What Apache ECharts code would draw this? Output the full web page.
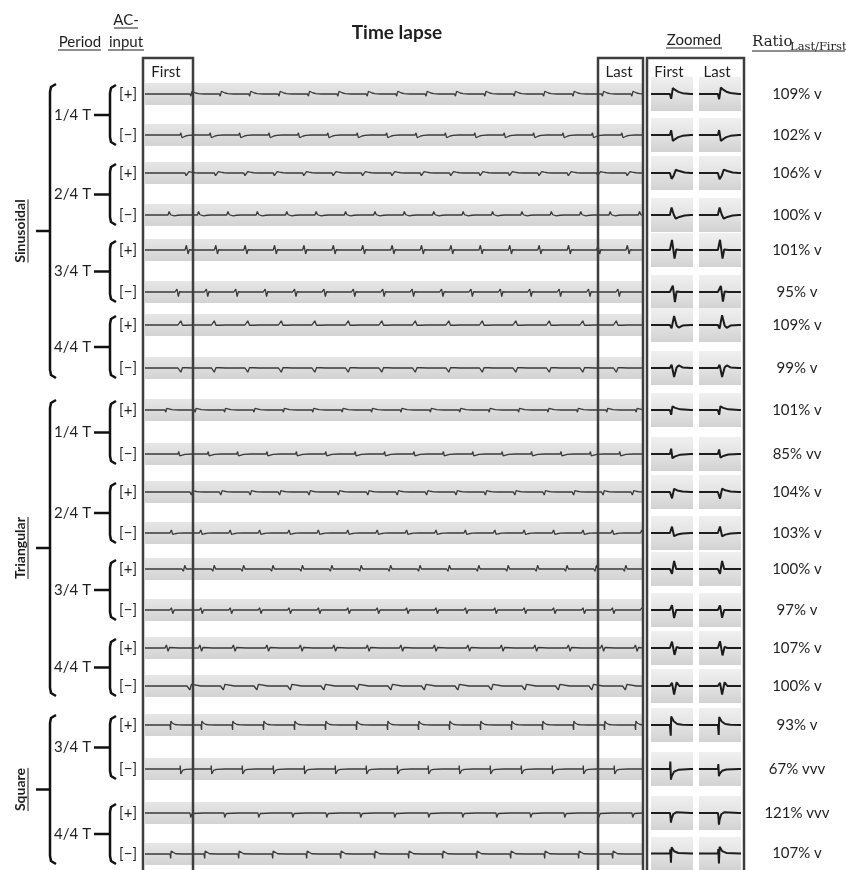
<!DOCTYPE html>
<html><head><meta charset="utf-8">
<script src="https://cdn.jsdelivr.net/npm/echarts@6/dist/echarts.min.js"></script>
<style>html,body{margin:0;padding:0;background:#fff}#c{width:846px;height:870px}</style>
</head><body><div id="c"></div>
<script>
// ---------------- DATA ----------------
const waveformNames = ['Sinusoidal', 'Triangular', 'Square'];
const waveformRows = [[0, 7], [8, 15], [16, 19]];
const periodLabels = ['1/4 T', '2/4 T', '3/4 T', '4/4 T', '1/4 T', '2/4 T', '3/4 T', '4/4 T', '3/4 T', '4/4 T'];
const polarityLabels = ['[+]', '[\u2212]'];
const ratioValues = [109, 102, 106, 100, 101, 95, 109, 99, 101, 85, 104, 103, 100, 97, 107, 100, 93, 67, 121, 107];
const ratioMarks = ['v', 'v', 'v', 'v', 'v', 'v', 'v', 'v', 'v', 'vv', 'v', 'v', 'v', 'v', 'v', 'v', 'v', 'vvv', 'vvv', 'v'];
// first stimulus artifact in the time-lapse strip and spacing between artifacts (strip units)
const firstPulse = [45, 35, 40, 23, 40, 30, 33, 33, 20, 33, 45, 25, 37, 25, 20, 42, 25, 35, 45, 25];
const pulseInterval = [29.4, 29.4, 29.4, 29.4, 29.4, 29.4, 33.5, 33.5, 29.4, 29.4, 29.4, 29.4, 29.4, 29.4, 33.5, 33.5, 31, 31, 34, 34];

// artifact shapes: [relative time 0..1, normalised amplitude]
const shapeSin14Pos = [[0, 0], [0.06, -0.45], [0.14, 0.55], [0.25, 0.38], [0.4, 0.2], [0.6, 0.08], [1, 0]];
const shapeSin14Neg = [[0, 0], [0.06, 0.45], [0.14, -0.55], [0.25, -0.38], [0.4, -0.2], [0.6, -0.08], [1, 0]];
const shapeSin24Pos = [[0, 0], [0.08, -0.55], [0.18, -0.25], [0.28, 0.3], [0.45, 0.18], [0.7, 0.05], [1, 0]];
const shapeSin24Neg = [[0, 0], [0.08, 0.7], [0.18, 0.05], [0.28, -0.35], [0.45, -0.18], [0.7, -0.05], [1, 0]];
const shapeSin34Pos = [[0, 0], [0.1, 0.95], [0.22, -0.8], [0.3, 0.05], [0.5, 0], [1, 0]];
const shapeSin34Neg = [[0, 0], [0.06, -0.15], [0.14, 0.6], [0.24, -0.95], [0.32, 0.05], [0.5, 0], [1, 0]];
const shapeSin44Pos = [[0, 0], [0.08, -0.3], [0.2, 0.85], [0.32, -0.05], [0.42, -0.25], [0.6, -0.05], [1, 0]];
const shapeSin44Neg = [[0, 0], [0.08, 0.3], [0.2, -0.85], [0.32, 0.05], [0.42, 0.25], [0.6, 0.05], [1, 0]];
const shapeTri14Pos = [[0, 0], [0.06, -0.45], [0.12, 0.35], [0.25, 0.2], [0.5, 0.06], [1, 0]];
const shapeTri14Neg = [[0, 0], [0.06, 0.5], [0.12, -0.4], [0.25, -0.22], [0.5, -0.06], [1, 0]];
const shapeTri24Pos = [[0, 0], [0.1, -0.6], [0.2, 0.3], [0.35, 0.15], [0.6, 0.04], [1, 0]];
const shapeTri24Neg = [[0, 0], [0.1, 0.6], [0.2, -0.3], [0.35, -0.15], [0.6, -0.04], [1, 0]];
const shapeTri34Pos = [[0, 0], [0.1, -0.45], [0.2, 0.75], [0.3, 0], [1, 0]];
const shapeTri34Neg = [[0, 0], [0.1, 0.45], [0.2, -0.75], [0.3, 0], [1, 0]];
const shapeTri44Pos = [[0, 0], [0.1, 0.6], [0.22, -0.65], [0.32, 0.1], [0.45, 0], [1, 0]];
const shapeTri44Neg = [[0, 0], [0.1, 0.3], [0.2, -0.8], [0.32, 0.35], [0.45, 0], [1, 0]];
const shapeSq34Pos = [[0, 0], [0.02, -0.5], [0.04, -1.0], [0.06, 0.8], [0.18, 0.35], [0.35, 0.1], [0.6, 0.02], [1, 0]];
const shapeSq34Neg = [[0, 0], [0.02, 0.7], [0.05, -1.0], [0.08, -0.7], [0.2, -0.25], [0.4, -0.08], [1, 0]];
const shapeSq44Pos = [[0, 0], [0.02, -0.2], [0.05, -0.9], [0.08, -0.55], [0.16, -0.1], [0.3, 0.06], [1, 0]];
const shapeSq44Neg = [[0, 0], [0.02, 0.4], [0.05, -0.9], [0.08, 0.6], [0.2, 0.22], [0.4, 0.05], [1, 0]];
const rowShapes = [shapeSin14Pos, shapeSin14Neg, shapeSin24Pos, shapeSin24Neg, shapeSin34Pos, shapeSin34Neg, shapeSin44Pos, shapeSin44Neg,
  shapeTri14Pos, shapeTri14Neg, shapeTri24Pos, shapeTri24Neg, shapeTri34Pos, shapeTri34Neg, shapeTri44Pos, shapeTri44Neg,
  shapeSq34Pos, shapeSq34Neg, shapeSq44Pos, shapeSq44Neg];

// ---------------- LAYOUT ----------------
const ROW_Y = [94, 135, 173, 215, 250, 292, 325, 368, 410, 454, 492, 533, 569, 610, 648, 686, 725, 769, 813, 854];
const TL_LEFT = 145, TL_W = 498, TL_H = 22;
const ZF_LEFT = 651, ZL_LEFT = 699, Z_W = 42, Z_H = 34;
const TL_SPIKE_W = 14, TL_AMP = 0.45;
const Z_SPIKE_AT = 45, Z_SPIKE_W = 50, Z_AMP = 0.75;
const FONT = 'Lato, "Open Sans", sans-serif';
const TXT = '#1e1e1e';

const chart = echarts.init(document.getElementById('c'), null, { renderer: 'canvas' });

function bandGrad() {
  return new echarts.graphic.LinearGradient(0, 0, 0, 1, [{ offset: 0, color: '#e6e6e6' }, { offset: 1, color: '#d3d3d3' }]);
}
function panelGrad() {
  return new echarts.graphic.LinearGradient(0, 0, 0, 1, [{ offset: 0, color: '#f0f0f0' }, { offset: 0.45, color: '#e4e4e4' }, { offset: 1, color: '#d2d2d2' }]);
}

function buildTimelapse(i) {
  const shape = rowShapes[i];
  const pts = [[0, 0]];
  for (let p = firstPulse[i]; p < TL_W; p += pulseInterval[i]) {
    shape.forEach(([t, v]) => {
      const x = p + t * TL_SPIKE_W;
      if (x <= TL_W) pts.push([x, v * TL_AMP]);
    });
  }
  pts.push([TL_W, 0]);
  return pts;
}
function buildZoom(i, scale) {
  const pts = [[0, 0]];
  rowShapes[i].forEach(([t, v]) => pts.push([Z_SPIKE_AT + t * Z_SPIKE_W, v * Z_AMP * scale]));
  pts.push([100, 0]);
  return pts;
}

const grids = [], xAxes = [], yAxes = [], series = [];
function addGrid(g) { grids.push(g); return grids.length - 1; }

ROW_Y.forEach((y, i) => {
  // time-lapse strip
  let g = addGrid({ left: TL_LEFT, top: y - TL_H / 2, width: TL_W, height: TL_H, show: true, borderWidth: 0, backgroundColor: bandGrad() });
  xAxes.push({ gridIndex: g, type: 'value', min: 0, max: TL_W, show: false });
  yAxes.push({ gridIndex: g, type: 'value', min: -1, max: 1, show: false, position: 'right' });
  let vy = yAxes.length - 1;
  yAxes.push({ gridIndex: g, type: 'category', position: 'left', data: [polarityLabels[i % 2]],
    axisLine: { show: false }, axisTick: { show: false },
    axisLabel: { margin: 8, fontSize: 15, fontFamily: FONT, color: TXT } });
  series.push({ type: 'line', xAxisIndex: g, yAxisIndex: vy, data: buildTimelapse(i), showSymbol: false, silent: true,
    lineStyle: { color: '#3a3a3a', width: 1.3 } });

  // zoomed first
  g = addGrid({ left: ZF_LEFT, top: y - Z_H / 2, width: Z_W, height: Z_H, show: true, borderWidth: 0, backgroundColor: panelGrad() });
  xAxes.push({ gridIndex: g, type: 'value', min: 0, max: 100, show: false });
  yAxes.push({ gridIndex: g, type: 'value', min: -1.2, max: 1.2, show: false });
  vy = yAxes.length - 1;
  series.push({ type: 'line', xAxisIndex: g, yAxisIndex: vy, data: buildZoom(i, 1), showSymbol: false, silent: true,
    lineStyle: { color: '#1c1c1c', width: 2 } });

  // zoomed last (+ ratio label)
  g = addGrid({ left: ZL_LEFT, top: y - Z_H / 2, width: Z_W, height: Z_H, show: true, borderWidth: 0, backgroundColor: panelGrad() });
  xAxes.push({ gridIndex: g, type: 'value', min: 0, max: 100, show: false });
  yAxes.push({ gridIndex: g, type: 'value', min: -1.2, max: 1.2, show: false, position: 'left' });
  vy = yAxes.length - 1;
  yAxes.push({ gridIndex: g, type: 'category', position: 'right', data: [ratioValues[i] + '% ' + ratioMarks[i]],
    axisLine: { show: false }, axisTick: { show: false },
    axisLabel: { margin: 56, align: 'center', fontSize: 15, fontFamily: FONT, color: TXT } });
  series.push({ type: 'line', xAxisIndex: g, yAxisIndex: vy, data: buildZoom(i, ratioValues[i] / 100), showSymbol: false, silent: true,
    lineStyle: { color: '#1c1c1c', width: 2 } });
});

// ---------------- GRAPHICS (labels, brackets, frames) ----------------
const gfx = [];
function text(x, y, s, font, opts) {
  gfx.push(Object.assign({ type: 'text', x: x, y: y, z: 20,
    style: { text: s, font: font, fill: TXT, textAlign: 'center', textVerticalAlign: 'middle', align: 'center', verticalAlign: 'middle' } }, opts || {}));
}
function line(x1, y1, x2, y2, w, c) {
  gfx.push({ type: 'line', z: 20, shape: { x1, y1, x2, y2 }, style: { stroke: c || TXT, lineWidth: w || 1 } });
}
function poly(points, w) {
  gfx.push({ type: 'polyline', z: 20, shape: { points }, style: { stroke: '#111', lineWidth: w || 2.5, fill: null } });
}
function rect(x, y, w, h) {
  gfx.push({ type: 'rect', z: 30, shape: { x, y, width: w, height: h }, style: { fill: null, stroke: '#3e3e3e', lineWidth: 2.5 } });
}

// headers
text(126, 20, 'AC-', '15px ' + FONT); line(114, 28, 138, 28);
text(126, 42, 'input', '15px ' + FONT); line(108, 50, 144, 50);
text(80, 42, 'Period', '15px ' + FONT); line(58, 50, 101, 50);
text(397, 33, 'Time lapse', 'bold 19px ' + FONT);
text(694, 40, 'Zoomed', '15px ' + FONT); line(666, 48, 722, 48);
gfx.push({ type: 'text', x: 752, y: 42, z: 20, style: { text: 'Ratio', font: '15px "DejaVu Serif", serif', fill: TXT, textAlign: 'left', textVerticalAlign: 'middle', align: 'left', verticalAlign: 'middle' } });
gfx.push({ type: 'text', x: 790, y: 47, z: 20, style: { text: 'Last/First', font: '11.5px "DejaVu Serif", serif', fill: TXT, textAlign: 'left', textVerticalAlign: 'middle', align: 'left', verticalAlign: 'middle' } });
line(752, 51, 845, 51);

// frames
rect(143, 58, 50, 840);
rect(598, 58, 45, 840);
rect(647, 58, 97, 840);
text(166, 72, 'First', '15px ' + FONT);
text(619, 72, 'Last', '15px ' + FONT);
text(669, 72, 'First', '15px ' + FONT);
text(717, 72, 'Last', '15px ' + FONT);

// period brackets
periodLabels.forEach((lab, k) => {
  const a = ROW_Y[2 * k], b = ROW_Y[2 * k + 1];
  const top = a - 9, bot = b + 10, mid = (top + bot) / 2;
  poly([[116, top], [111, top + 3], [110, top + 8], [110, bot - 8], [111, bot - 3], [116, bot]]);
  line(94, mid, 110, mid, 2.5, '#111');
  gfx.push({ type: 'text', x: 91, y: mid, z: 20, style: { text: lab, font: '15px ' + FONT, fill: TXT, textAlign: 'right', textVerticalAlign: 'middle', align: 'right', verticalAlign: 'middle' } });
});

// waveform brackets
const ctx = document.createElement('canvas').getContext('2d');
ctx.font = 'bold 14px ' + FONT;
waveformNames.forEach((name, k) => {
  const [r0, r1] = waveformRows[k];
  const top = ROW_Y[r0] - 10, bot = Math.min(ROW_Y[r1] + 10, 866), mid = (top + bot) / 2;
  poly([[56, top], [51, top + 3], [50, top + 8], [50, bot - 8], [51, bot - 3], [56, bot]]);
  line(36, mid, 50, mid, 2.5, '#111');
  gfx.push({ type: 'text', x: 20, y: mid, rotation: Math.PI / 2, z: 20,
    style: { text: name, font: 'bold 14px ' + FONT, fill: TXT, textAlign: 'center', textVerticalAlign: 'middle', align: 'center', verticalAlign: 'middle' } });
  const w = ctx.measureText(name).width;
  line(28, mid - w / 2, 28, mid + w / 2, 1);
});

chart.setOption({
  animation: false,
  grid: grids, xAxis: xAxes, yAxis: yAxes, series: series, graphic: { elements: gfx }
});
</script>
</body></html>
